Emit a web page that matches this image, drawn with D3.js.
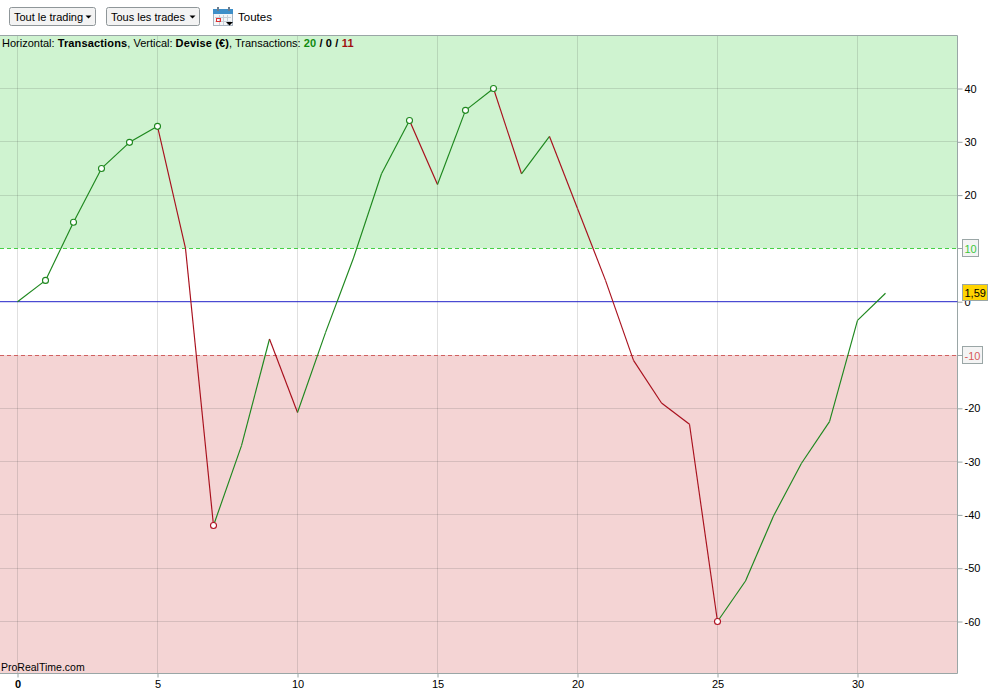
<!DOCTYPE html>
<html>
<head>
<meta charset="utf-8">
<script src="https://cdn.jsdelivr.net/npm/d3@7"></script>
<style>
html, body { margin: 0; padding: 0; background: #fff; overflow: hidden; }
text { font-family: "Liberation Sans", Arial, sans-serif; font-size: 11px; fill: #000; }
</style>
</head>
<body>
<div id="chart"></div>
<script>
// trade number on the horizontal axis, gain in euros on the vertical one
var trades = [0,1,2,3,4,5,6,7,8,9,10,11,12,13,14,15,16,17,18,19,20,21,22,23,24,25,26,27,28,29,30,31];
var gains = [0,4,14.9,25,29.9,32.9,10,-42,-27,-7,-20.8,-5.8,8.2,24,34,22,35.9,40,24,31,17.5,4,-11,-19,-23,-60,-52.4,-40.2,-30.3,-22.5,-3.5,1.59];
var markedTrades = [1,2,3,4,5,7,14,16,17,25];
var xTicks = [0,5,10,15,20,25,30];
var yTicks = [40,30,20,0,-20,-30,-40,-50,-60];
var gridY = [40,30,20,-20,-30,-40,-50,-60];
var upperLimit = 10;
var lowerLimit = -10;
var lastValue = "1,59";

var w = 1002, h = 694;
var left = 0, right = 957.5, top_ = 36, bottom = 673.5;

var x = d3.scaleLinear().domain([0, 31]).range([17.5, 885.5]);
var y = d3.scaleLinear().domain([40, -60]).range([88.5, 621.5]);

var svg = d3.select("#chart").append("svg")
    .attr("width", w)
    .attr("height", h)
    .style("display", "block");

// green and red zones
svg.append("rect")
    .attr("x", left).attr("y", top_)
    .attr("width", right - left).attr("height", y(upperLimit) - top_)
    .attr("fill", "#cff3d0");
svg.append("rect")
    .attr("x", left).attr("y", y(lowerLimit))
    .attr("width", right - left).attr("height", bottom - y(lowerLimit))
    .attr("fill", "#f4d4d4");

// grid
svg.append("g").selectAll("line")
    .data(xTicks)
    .enter().append("line")
    .attr("x1", function(d) { return x(d); })
    .attr("x2", function(d) { return x(d); })
    .attr("y1", top_).attr("y2", bottom)
    .attr("stroke", "rgba(60,60,60,0.16)");
svg.append("g").selectAll("line")
    .data(gridY)
    .enter().append("line")
    .attr("x1", left).attr("x2", right)
    .attr("y1", function(d) { return Math.round(y(d) - 0.5) + 0.5; })
    .attr("y2", function(d) { return Math.round(y(d) - 0.5) + 0.5; })
    .attr("stroke", "rgba(60,60,60,0.16)");

// frame
svg.append("path")
    .attr("d", "M" + left + "," + (top_ - 0.5) + "H" + right + "V" + bottom + "H" + left)
    .attr("fill", "none")
    .attr("stroke", "#9aa6a6");

// limits and zero
svg.append("line")
    .attr("x1", left).attr("x2", right)
    .attr("y1", 248.5).attr("y2", 248.5)
    .attr("stroke", "#45d045").attr("stroke-dasharray", "4,3");
svg.append("line")
    .attr("x1", left).attr("x2", right)
    .attr("y1", 355.5).attr("y2", 355.5)
    .attr("stroke", "#d06060").attr("stroke-dasharray", "4,3");
svg.append("line")
    .attr("x1", left).attr("x2", right)
    .attr("y1", y(0)).attr("y2", y(0))
    .attr("stroke", "#2222c8");

// one segment per trade, green if it gained and red if it lost
var segments = d3.pairs(trades.map(function(t, i) { return [t, gains[i]]; }));
svg.append("g").selectAll("line")
    .data(segments)
    .enter().append("line")
    .attr("x1", function(d) { return x(d[0][0]); })
    .attr("y1", function(d) { return y(d[0][1]); })
    .attr("x2", function(d) { return x(d[1][0]); })
    .attr("y2", function(d) { return y(d[1][1]); })
    .attr("stroke", function(d) { return d[1][1] >= d[0][1] ? "#1d871d" : "#a80f1c"; })
    .attr("stroke-width", 1.15);

svg.append("g").selectAll("circle")
    .data(markedTrades)
    .enter().append("circle")
    .attr("cx", function(d) { return x(d); })
    .attr("cy", function(d) { return y(gains[d]); })
    .attr("r", 3)
    .attr("fill", "#fff")
    .attr("stroke", function(d) { return gains[d] < 0 ? "#b01020" : "#1d871d"; })
    .attr("stroke-width", 1.1);

// axes
var yAxis = d3.axisRight(y).tickValues(yTicks).tickSize(5).tickPadding(2)
    .tickFormat(function(d) { return String(d); });
var gy = svg.append("g").attr("transform", "translate(" + right + ",0)").call(yAxis);
var xAxis = d3.axisBottom(x).tickValues(xTicks).tickSize(4).tickPadding(3)
    .tickFormat(function(d) { return String(d); });
var gx = svg.append("g").attr("transform", "translate(0," + bottom + ")").call(xAxis);

gy.select(".domain").remove();
gx.select(".domain").remove();
gy.selectAll("line").attr("stroke", "#9aa6a6");
gx.selectAll("line").attr("stroke", "#9aa6a6");
gy.selectAll("text").attr("x", 7);
gx.selectAll("text").style("font-weight", function(d) { return d === 0 ? "bold" : null; });
gy.attr("font-size", null).attr("font-family", null);
gx.attr("font-size", null).attr("font-family", null);

// boxed limit labels
function limitBox(value, width, lineY, color) {
    svg.append("line")
        .attr("x1", right).attr("x2", right + 5)
        .attr("y1", lineY).attr("y2", lineY)
        .attr("stroke", "#9aa6a6");
    svg.append("rect")
        .attr("x", 962.5).attr("y", lineY - 9)
        .attr("width", width).attr("height", 17)
        .attr("fill", "#f4f4f4").attr("stroke", "#9aa6a6");
    svg.append("text")
        .attr("x", 964.5).attr("y", lineY + 4)
        .style("fill", color)
        .text(String(value));
}
limitBox(upperLimit, 16, 248.5, "#3cc83c");
limitBox(lowerLimit, 20, 355.5, "#d85a5a");

// last value flag
var flag = svg.append("g");
flag.append("rect")
    .attr("x", 962.5).attr("y", 284.5)
    .attr("width", 25).attr("height", 16)
    .attr("fill", "#ffd400").attr("stroke", "#9aa6a6");
flag.append("text").attr("x", 964.5).attr("y", 297).text(lastValue);

// header text
var info = svg.append("text").attr("x", 2).attr("y", 47);
function span(s, bold, color) {
    var t = info.append("tspan").text(s);
    if (bold) t.style("font-weight", "bold").style("letter-spacing", "0.15px");
    if (color) t.style("fill", color);
}
span("Horizontal: ");
span("Transactions", true);
span(", Vertical: ");
span("Devise (€)", true);
span(", Transactions: ");
span("20", true, "#0f8a0f");
span(" / ", true);
span("0", true);
span(" / ", true);
span("11", true, "#a01010");

svg.append("text").attr("x", 1).attr("y", 671).style("font-size", "10.5px").text("ProRealTime.com");

// toolbar
function button(bx, bw, label) {
    var g = svg.append("g");
    g.append("rect")
        .attr("x", bx + 0.5).attr("y", 7.5)
        .attr("width", bw).attr("height", 18)
        .attr("rx", 2)
        .attr("fill", "#f3f3f3").attr("stroke", "#8f9699");
    g.append("text").attr("x", bx + 5).attr("y", 21).text(label);
    g.append("path")
        .attr("d", "M" + (bx + bw - 9.5) + ",15.5H" + (bx + bw - 3.5) + "L" + (bx + bw - 6.5) + ",18.5Z")
        .attr("fill", "#000");
}
button(9, 86, "Tout le trading");
button(106, 93, "Tous les trades");

// calendar icon
var cal = svg.append("g");
cal.append("rect").attr("x", 213.5).attr("y", 9.5).attr("width", 19).attr("height", 16)
    .attr("fill", "#f4f6f8").attr("stroke", "#a8b4c0");
cal.append("rect").attr("x", 213).attr("y", 9).attr("width", 20).attr("height", 5).attr("fill", "#3f8fc8");
[217, 228].forEach(function(cx) {
    cal.append("rect").attr("x", cx).attr("y", 7).attr("width", 2).attr("height", 4).attr("fill", "#6e7d8c");
});
cal.append("path").attr("d", "M215,17.5H231M215,21.5H231M219.5,15V25M223.5,15V25M227.5,15V25")
    .attr("stroke", "#c8d0d8").attr("fill", "none");
cal.append("rect").attr("x", 216.5).attr("y", 18.5).attr("width", 4).attr("height", 3)
    .attr("fill", "none").attr("stroke", "#e03030");
cal.append("path").attr("d", "M226,22H233L229.5,25.5Z").attr("fill", "#000");
svg.append("text").attr("x", 238).attr("y", 21).style("font-size", "11.5px").text("Toutes");
</script>
</body>
</html>
